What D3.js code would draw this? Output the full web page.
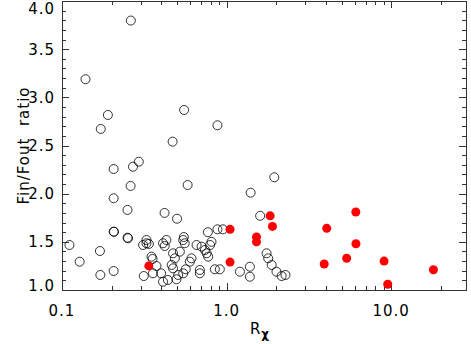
<!DOCTYPE html>
<html lang="en">
<head>
<meta charset="utf-8">
<script src="https://d3js.org/d3.v7.min.js"></script>
<title>Fin/Fout ratio</title>
<style>
body { margin: 0; background: #ffffff; }
text { font-family: "DejaVu Sans", sans-serif; fill: #000; }
.tick-label { font-size: 15px; letter-spacing: 1px; }
</style>
</head>
<body>
<script>
// open circles: [R_x, Fin/Fout]
var openX = [0.111, 0.128, 0.170, 0.171, 0.206, 0.206, 0.252, 0.314, 0.311, 0.326, 0.337, 0.350, 0.355, 0.375,
  0.172, 0.206, 0.270, 0.293, 0.261, 0.206, 0.250, 0.207, 0.250, 0.326, 0.139, 0.262, 0.190, 0.552,
  0.411, 0.431, 0.421, 0.473, 0.485, 0.520, 0.545, 0.557, 0.598, 0.612, 0.565, 0.657, 0.705, 0.739,
  0.757, 0.773, 0.810, 0.794, 0.688, 0.688, 0.849, 0.910, 1.205, 1.386, 1.386, 1.75, 1.79, 1.88,
  2.01, 2.16, 2.28, 0.411, 0.440, 0.496, 0.508, 0.545, 0.473, 0.464, 0.400, 0.357,
  0.47, 0.88, 0.58, 1.95, 1.40, 0.42, 0.50, 0.88, 0.95, 1.60, 0.77, 0.55];
var openY = [1.467, 1.294, 1.405, 1.156, 1.197, 1.605, 1.537, 1.145, 1.467, 1.485, 1.478, 1.346, 1.322, 1.249,
  2.672, 2.256, 2.280, 2.332, 2.080, 1.952, 1.831, 1.605, 1.543, 1.519, 3.188, 3.797, 2.817, 2.869,
  1.485, 1.519, 1.457, 1.381, 1.329, 1.398, 1.519, 1.485, 1.294, 1.329, 1.215, 1.467, 1.450, 1.415,
  1.381, 1.346, 1.500, 1.467, 1.208, 1.173, 1.215, 1.215, 1.190, 1.242, 1.138, 1.381, 1.329, 1.260,
  1.190, 1.145, 1.156, 1.086, 1.104, 1.111, 1.156, 1.173, 1.225, 1.260, 1.173, 1.173,
  2.54, 2.71, 2.09, 2.17, 2.01, 1.80, 1.74, 1.63, 1.63, 1.77, 1.60, 1.55];

// filled red circles
var redX = [0.337, 1.05, 1.05, 1.52, 1.52, 1.84, 1.90, 4.06, 6.10, 6.11, 3.92, 5.37, 9.06, 9.53, 18.07];
var redY = [1.25, 1.63, 1.29, 1.55, 1.50, 1.77, 1.66, 1.64, 1.81, 1.48, 1.27, 1.33, 1.30, 1.06, 1.21];

var xMajor = [0.1, 1, 10];
var xMajorLabels = ["0.1", "1.0", "10.0"];
var xMinor = [0.2, 0.3, 0.4, 0.5, 0.6, 0.7, 0.8, 0.9, 2, 3, 4, 5, 6, 7, 8, 9, 20];
var yMajor = [1.0, 1.5, 2.0, 2.5, 3.0, 3.5, 4.0];
var yMajorLabels = ["1.0", "1.5", "2.0", "2.5", "3.0", "3.5", "4.0"];
var yMinor = d3.range(10, 41).map(function(d) { return d / 10; })
  .filter(function(d) { return yMajor.indexOf(d) < 0; });

var width = 471, height = 344;
var plotL = 62, plotR = 466, plotT = 1, plotB = 290;

var x = d3.scaleLog().domain([0.1, 28.5]).range([plotL, plotR]);
var y = d3.scaleLinear().domain([1, 4]).range([plotB, plotT]);

var svg = d3.select("body").append("svg")
  .attr("width", width)
  .attr("height", height);

// frame
svg.append("rect")
  .attr("x", plotL + 0.5).attr("y", plotT + 0.5)
  .attr("width", plotR - plotL).attr("height", plotB - plotT)
  .attr("fill", "none").attr("stroke", "#333").attr("stroke-width", 1);

// ticks on all four sides, pointing in
var g = svg.append("g").attr("stroke", "#333").attr("stroke-width", 1);
function xTick(v, len) {
  var px = Math.round(x(v)) + 0.5;
  g.append("line").attr("x1", px).attr("x2", px).attr("y1", plotB).attr("y2", plotB - len);
  g.append("line").attr("x1", px).attr("x2", px).attr("y1", plotT).attr("y2", plotT + len);
}
xMajor.forEach(function(v) { xTick(v, 7); });
xMinor.forEach(function(v) { xTick(v, 4); });

function yTick(v, len) {
  var py = Math.round(y(v)) + 0.5;
  g.append("line").attr("x1", plotL).attr("x2", plotL + len).attr("y1", py).attr("y2", py);
  g.append("line").attr("x1", plotR).attr("x2", plotR - len).attr("y1", py).attr("y2", py);
}
yMajor.forEach(function(v) { yTick(v, 7); });
yMinor.forEach(function(v) { yTick(v, 4); });

// tick labels
svg.selectAll(".xl").data(xMajor).enter().append("text")
  .attr("class", "tick-label")
  .attr("x", function(d) { return x(d); })
  .attr("y", 316)
  .attr("text-anchor", "middle")
  .text(function(d, i) { return xMajorLabels[i]; });

// end labels are kept inside the frame height, like the original
svg.selectAll(".yl").data(yMajor).enter().append("text")
  .attr("class", "tick-label")
  .attr("x", 55)
  .attr("y", function(d) {
    var cy = Math.max(plotT + 7, Math.min(plotB - 5, y(d)));
    return cy + 5.5;
  })
  .attr("text-anchor", "end")
  .text(function(d, i) { return yMajorLabels[i]; });

// axis titles
svg.append("text")
  .attr("class", "tick-label")
  .attr("transform", "translate(29," + ((plotT + plotB) / 2) + ") rotate(-90)")
  .attr("text-anchor", "middle")
  .attr("xml:space", "preserve")
  .text("Fin/Fout  ratio");

var xt = svg.append("text")
  .attr("class", "tick-label")
  .attr("x", 260)
  .attr("y", 334)
  .attr("text-anchor", "middle");
xt.append("tspan").text("R");
xt.append("tspan").attr("dy", 4).style("font-size", "12px").style("font-weight", "bold").text("\u03c7");

// points
svg.selectAll(".open").data(openX).enter().append("circle")
  .attr("cx", function(d) { return x(d); })
  .attr("cy", function(d, i) { return y(openY[i]); })
  .attr("r", 4.5)
  .attr("fill", "none")
  .attr("stroke", "#000")
  .attr("stroke-width", 0.8);

svg.selectAll(".red").data(redX).enter().append("circle")
  .attr("cx", function(d) { return x(d); })
  .attr("cy", function(d, i) { return y(redY[i]); })
  .attr("r", 4.5)
  .attr("fill", "#ff0000");
</script>
</body>
</html>
